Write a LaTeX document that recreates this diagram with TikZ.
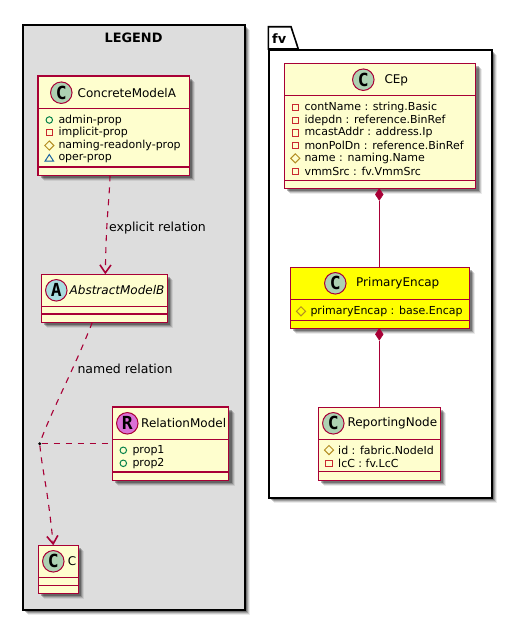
\documentclass[tikz,border=0pt]{standalone}
\usepackage{fontspec}
\setmainfont{DejaVu Sans}
\newfontfamily\spotfont{DejaVu Sans Mono}
\usetikzlibrary{arrows.meta,calc,shapes.geometric}
\definecolor{umlborder}{HTML}{A80036}
\definecolor{umlfill}{HTML}{FEFECE}
\definecolor{umlyellow}{HTML}{FFFF00}
\definecolor{circC}{HTML}{ADD1B2}
\definecolor{circA}{HTML}{A9DCDF}
\definecolor{circR}{HTML}{DA70D6}
\definecolor{icoplus}{HTML}{038048}
\definecolor{icominus}{HTML}{C82930}
\definecolor{icohash}{HTML}{B38D22}
\definecolor{icotri}{HTML}{1963A0}
\definecolor{legendgray}{HTML}{DDDDDD}
\tikzset{
  frameline/.style={draw=black,line width=1.6pt},
  classbox/.style={draw=umlborder,line width=1.5pt,anchor=north west,inner sep=0pt,outer sep=0pt},
  divider/.style={draw=umlborder,line width=1.5pt},
  classname/.style={anchor=west,inner sep=0pt,font=\fontsize{12}{14}\selectfont,text=black},
  membertext/.style={anchor=west,inner sep=0pt,font=\fontsize{11}{13}\selectfont,text=black},
  spot/.style={circle,draw=umlborder,line width=1pt,minimum size=21.5pt,inner sep=0pt,font=\spotfont\fontsize{18}{20}\bfseries\selectfont,text=black},
  icoP/.style={circle,draw=icoplus,line width=1pt,minimum size=6.5pt,inner sep=0pt},
  icoM/.style={rectangle,draw=icominus,line width=1pt,minimum size=6.5pt,inner sep=0pt},
  icoH/.style={diamond,draw=icohash,line width=1pt,minimum size=9.5pt,inner sep=0pt},
  icoT/.style={draw=icotri,line width=1pt},
  rel/.style={draw=umlborder,line width=1.1pt},
  reldash/.style={rel,dash pattern=on 6pt off 6pt},
  openhead/.style={-{Straight Barb[length=8pt,width=11pt,line width=1.6pt]}},
  comp/.style={diamond,fill=umlborder,draw=umlborder,inner sep=0pt,minimum width=8pt,minimum height=12pt,aspect=.7},
  lbl/.style={anchor=west,inner sep=0pt,font=\fontsize{12.5}{14}\selectfont,text=black},
  frametitle/.style={inner sep=0pt,font=\fontsize{12.9}{15}\bfseries\selectfont},
}
% soft drop shadow from corner coordinates
\newcommand{\softshadow}[4]{%
  \foreach \d/\o in {6/.08,5/.14,4/.20,3/.28}{
    \fill[black,opacity=\o] (#1+\d,#2+\d) rectangle (#3+\d,#4+\d);
  }}
% name, x1,y1,x2,y2, divider1, divider2, fill
\newcommand{\umlclass}[8]{%
  \softshadow{#2}{#3}{#4}{#5}
  \node[classbox,fill=#8,minimum width={(#4-#2)*1pt},minimum height={(#5-#3)*1pt}] (#1) at (#2,#3) {};
  \draw[divider] (#2,#6) -- (#4,#6);
  \draw[divider] (#2,#7) -- (#4,#7);
}
\begin{document}
\begin{tikzpicture}[x=1pt,y=-1pt]
\useasboundingbox (0,0) rectangle (524,635);
\fill[white] (0,0) rectangle (524,635);
% LEGEND frame
\softshadow{22.3}{24.3}{244}{609.3}
\node[frameline,fill=legendgray,anchor=north west,inner sep=0pt,minimum width=221.7pt,minimum height=585pt] (legend) at (22.3,24.3) {};
\node[frametitle] (legendtitle) at (133.5,38) {LEGEND};
% fv package
\softshadow{268.3}{49}{491}{497.3}
\fill[white,frameline] (268.3,49) -- (268.3,26.7) -- (291,26.7) -- (298.3,49) -- cycle;
\node[frameline,fill=white,anchor=north west,inner sep=0pt,minimum width=222.7pt,minimum height=448.3pt] (fv) at (268.3,49) {};
\node[frametitle,anchor=west] (fvtitle) at (272,39) {fv};
% classes
\umlclass{cma}{38}{76}{189.3}{175.3}{108.3}{167}{umlfill}
\node[spot,fill=circC] (cmas) at (61.3,92.7) {C};
\node[classname] (cmat) at (77.5,93) {ConcreteModelA};
\node[icoP] (i1) at (49.3,120) {};
\node[membertext] (m1) at (58.3,120) {admin-prop};
\node[icoM] (i2) at (49.3,132.7) {};
\node[membertext] (m2) at (58.3,132.7) {implicit-prop};
\node[icoH] (i3) at (49.3,145.5) {};
\node[membertext] (m3) at (58.3,145.5) {naming-readonly-prop};
\coordinate (i4) at (49.3,158);
\draw[icoT] ($(i4)+(-4.3,3.2)$) -- ($(i4)+(0,-3.5)$) -- ($(i4)+(4.3,3.2)$) -- cycle;
\node[membertext] (m4) at (58.3,158.3) {oper-prop};

\umlclass{amb}{41.3}{274.3}{167.3}{322.3}{306.7}{314}{umlfill}
\node[spot,fill=circA] (ambs) at (56.3,290.3) {A};
\node[classname,font=\fontsize{12}{14}\itshape\selectfont] (ambt) at (69.5,290.5) {AbstractModelB};

\umlclass{rm}{112.3}{407}{228.7}{480.3}{439.3}{472}{umlfill}
\node[spot,fill=circR] (rms) at (127.3,423.3) {R};
\node[classname] (rmt) at (141,423.5) {RelationModel};
\node[icoP] (i5) at (123.3,450.3) {};
\node[membertext] (m5) at (132.3,450.3) {prop1};
\node[icoP] (i6) at (123.3,463.3) {};
\node[membertext] (m6) at (132.3,463.3) {prop2};

\umlclass{cc}{38.3}{545.3}{78.3}{593.3}{577.7}{585.3}{umlfill}
\node[spot,fill=circC] (ccs) at (53.3,561.3) {C};
\node[classname] (cct) at (67.7,561.5) {C};

\umlclass{cep}{284.3}{63.3}{475.7}{188.3}{95.7}{180.3}{umlfill}
\node[spot,fill=circC] (ceps) at (363.3,79.7) {C};
\node[classname] (cept) at (384.3,80) {CEp};
\node[icoM] (c1) at (295.3,107.5) {};
\node[membertext] (t1) at (304.3,107.3) {contName : string.Basic};
\node[icoM] (c2) at (295.3,120.3) {};
\node[membertext] (t2) at (304.3,120) {idepdn : reference.BinRef};
\node[icoM] (c3) at (295.3,133) {};
\node[membertext] (t3) at (304.3,132.8) {mcastAddr : address.Ip};
\node[icoM] (c4) at (295.3,145.7) {};
\node[membertext] (t4) at (304.3,145.5) {monPolDn : reference.BinRef};
\node[icoH] (c5) at (295.3,158.3) {};
\node[membertext] (t5) at (304.3,158.3) {name : naming.Name};
\node[icoM] (c6) at (295.3,171.5) {};
\node[membertext] (t6) at (304.3,171.3) {vmmSrc : fv.VmmSrc};

\umlclass{pe}{290.3}{267.3}{469.3}{328.3}{299.3}{320.7}{umlyellow}
\node[spot,fill=circC] (pes) at (335.3,283.3) {C};
\node[classname] (pet) at (356,283.6) {PrimaryEncap};
\node[icoH] (p1) at (301,311.3) {};
\node[membertext] (pt1) at (310.3,311.3) {primaryEncap : base.Encap};

\umlclass{rn}{318.3}{407.3}{440.3}{480.3}{439.3}{471.7}{umlfill}
\node[spot,fill=circC] (rns) at (333.3,423.3) {C};
\node[classname] (rnt) at (347.3,423.6) {ReportingNode};
\node[icoH] (r1) at (329,450) {};
\node[membertext] (rt1) at (338,450) {id : fabric.NodeId};
\node[icoM] (r2) at (329,463.5) {};
\node[membertext] (rt2) at (338,463.3) {lcC : fv.LcC};

% association point
\node[circle,fill=black,inner sep=0pt,minimum size=3.2pt] (dot) at (39.7,443.7) {};

% connectors
\path[reldash,openhead] ([xshift=-3.6pt]cma.south) .. controls +(-1,30) and +(1,-60) .. ([xshift=1pt]amb.north);
\path[reldash] ([xshift=-12pt]amb.south) .. controls +(-17,44) and +(10,-29) .. (dot);
\path[reldash,openhead] (dot) .. controls +(3,30) and +(-6,-60) .. ([xshift=-5pt]cc.north);
\path[reldash] (dot) -- (dot -| rm.west);
% compositions
\node[comp] (d1) at ($(cep.south)+(-0.7,6.2)$) {};
\draw[rel] (d1) -- (d1 |- pe.north);
\node[comp] (d2) at ($(pe.south)+(-0.5,6)$) {};
\draw[rel] (d2) -- (d2 |- rn.north);
% labels
\node[lbl] (l1) at (109,228.5) {explicit relation};
\node[lbl] (l2) at (77.3,368.7) {named relation};
\end{tikzpicture}
\end{document}
